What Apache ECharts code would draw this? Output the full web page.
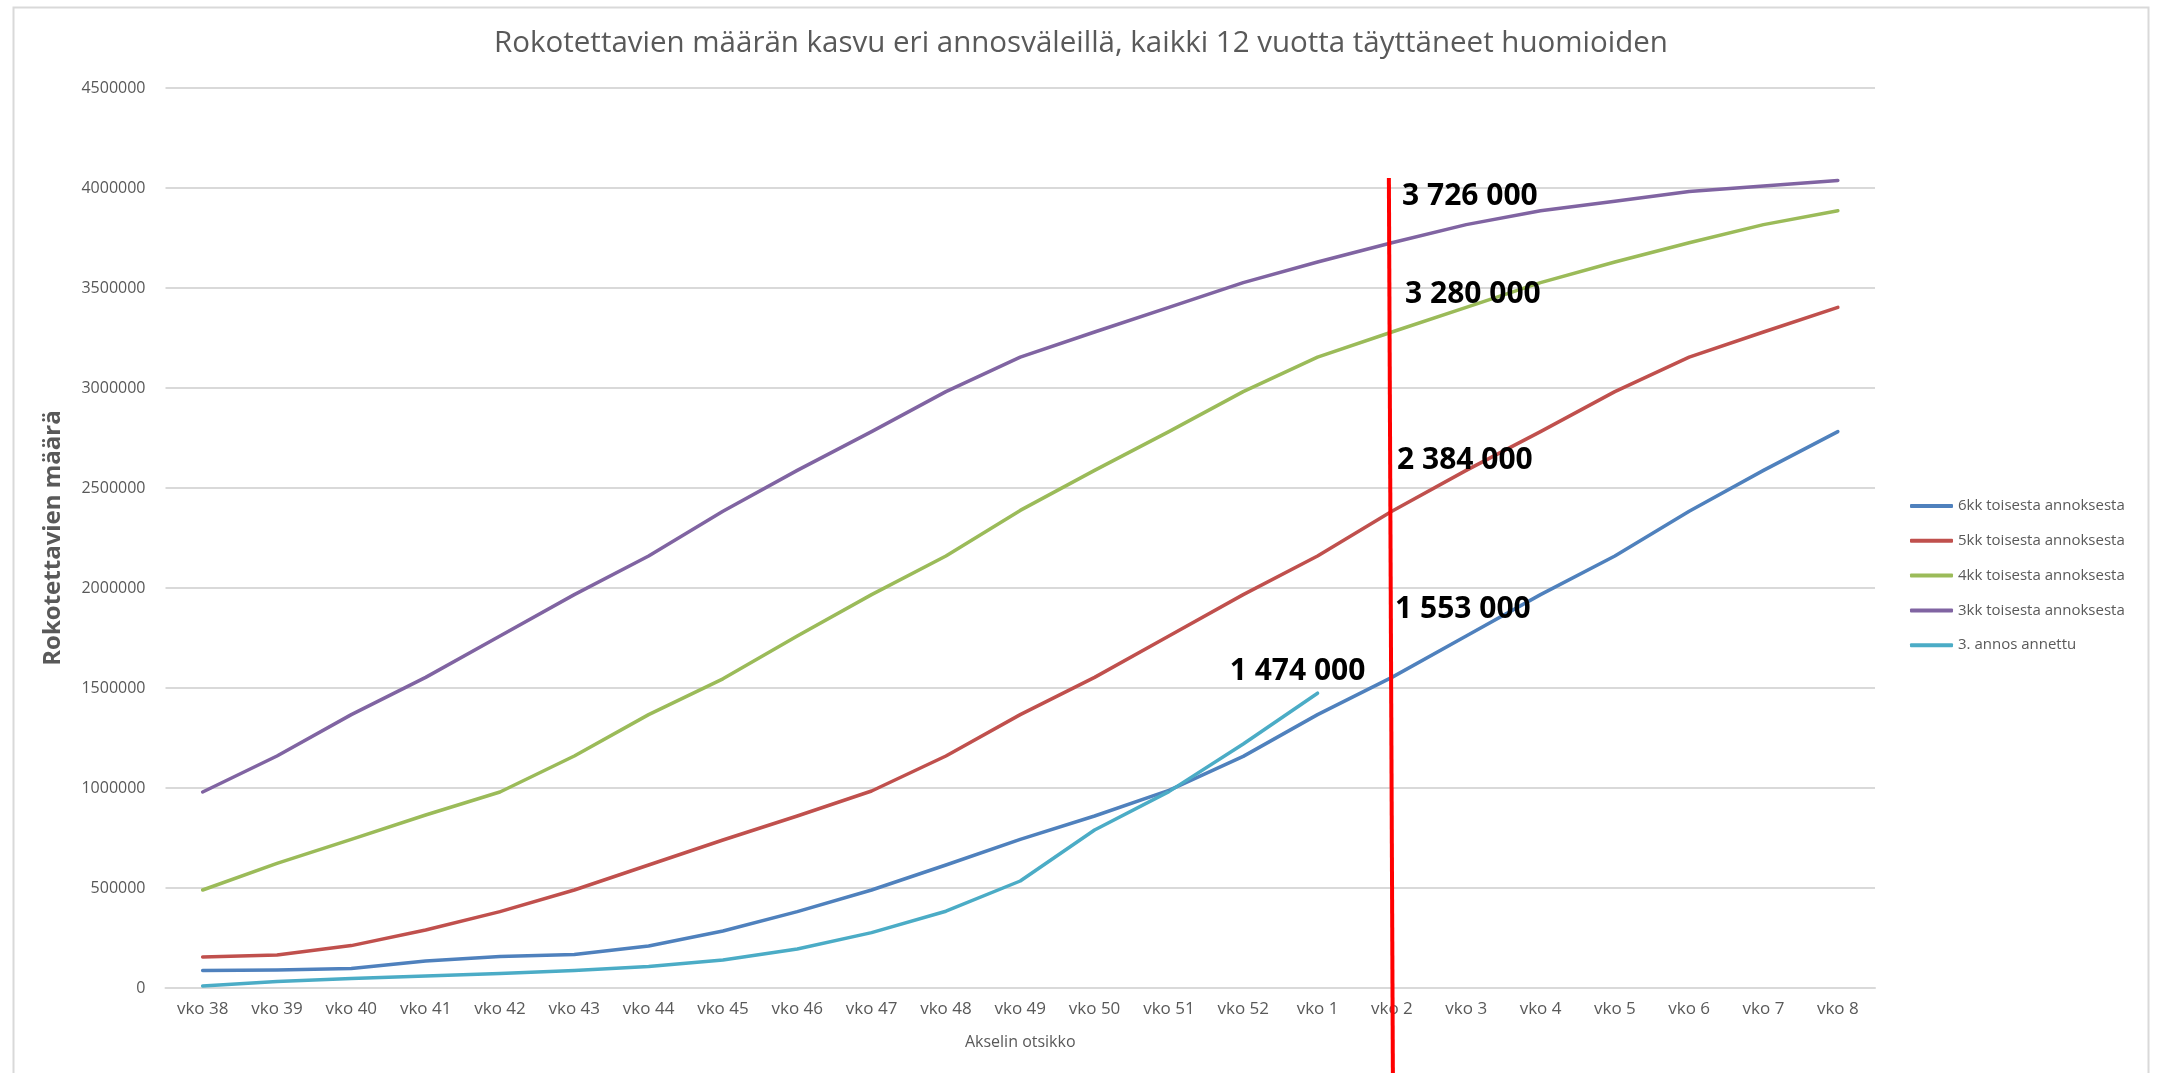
<!DOCTYPE html>
<html>
<head>
<meta charset="utf-8">
<script src="https://cdn.jsdelivr.net/npm/echarts@6/dist/echarts.min.js"></script>
<style>
html,body{margin:0;padding:0;background:#fff;}
#chart{width:2162px;height:1073px;}
</style>
</head>
<body>
<div id="chart"></div>
<script>
const categories = ['vko 38','vko 39','vko 40','vko 41','vko 42','vko 43','vko 44','vko 45','vko 46','vko 47','vko 48','vko 49','vko 50','vko 51','vko 52','vko 1','vko 2','vko 3','vko 4','vko 5','vko 6','vko 7','vko 8'];

const kk6 = [87000, 90000, 98000, 135000, 157000, 168000, 210000, 285000, 382000, 490000, 615000, 743000, 860000, 988000, 1158000, 1367000, 1553000, 1760000, 1967000, 2160000, 2384000, 2588000, 2782000];
const kk5 = [155000, 165000, 212000, 290000, 382000, 490000, 615000, 740000, 860000, 985000, 1160000, 1367000, 1553000, 1760000, 1967000, 2160000, 2384000, 2588000, 2782000, 2982000, 3154000, 3280000, 3403000];
const kk4 = [490000, 623000, 743000, 865000, 980000, 1160000, 1367000, 1546000, 1760000, 1967000, 2160000, 2388000, 2588000, 2782000, 2982000, 3154000, 3280000, 3403000, 3527000, 3630000, 3726000, 3817000, 3886000];
const kk3 = [980000, 1160000, 1367000, 1553000, 1760000, 1967000, 2160000, 2384000, 2588000, 2782000, 2982000, 3154000, 3280000, 3403000, 3527000, 3630000, 3726000, 3817000, 3886000, 3934000, 3982000, 4010000, 4038000];
const annos3 = [10000, 32000, 47000, 60000, 73000, 87000, 108000, 140000, 195000, 277000, 384000, 535000, 790000, 982000, 1220000, 1474000, null, null, null, null, null, null, null];

const seriesNames = ['6kk toisesta annoksesta','5kk toisesta annoksesta','4kk toisesta annoksesta','3kk toisesta annoksesta','3. annos annettu'];
const yTicks = {min: 0, max: 4500000, interval: 500000};
const markerCategory = 'vko 2';
const markerTop = 4050000;

const FONT = "'Open Sans', sans-serif";
const GRAY = '#595959';
const fmt = v => String(v).replace(/\B(?=(\d{3})+(?!\d))/g, ' ');

function withLabel(arr, idx, offset) {
  return arr.map((v, i) => i === idx ? {
    value: v,
    label: {
      show: true, position: 'inside', offset: offset,
      formatter: p => fmt(p.value),
      fontFamily: FONT, fontSize: 30, fontWeight: 'bold', color: '#000'
    }
  } : v);
}

const colors = ['#4F81BD', '#C0504D', '#9BBB59', '#8064A2', '#4BACC6'];
const idxV2 = categories.indexOf('vko 2');
const idxV1 = categories.indexOf('vko 1');

function lineSeries(name, data, color) {
  return {
    name: name, type: 'line', data: data,
    symbol: 'circle', symbolSize: 2, showSymbol: true,
    itemStyle: {color: color},
    lineStyle: {color: color, width: 3.5, cap: 'round', join: 'round'},
    emphasis: {disabled: true},
    clip: false
  };
}

const chart = echarts.init(document.getElementById('chart'), null, {renderer: 'canvas'});
chart.setOption({
  animation: false,
  backgroundColor: '#fff',
  title: {
    text: 'Rokotettavien määrän kasvu eri annosväleillä, kaikki 12 vuotta täyttäneet huomioiden',
    left: 'center', top: 24,
    textStyle: {fontFamily: FONT, fontSize: 29.5, fontWeight: 'normal', color: GRAY}
  },
  graphic: [{
    type: 'rect', left: 11, top: 5, silent: true,
    shape: {width: 2135, height: 1100},
    style: {fill: 'none', stroke: '#D9D9D9', lineWidth: 2}
  }],
  legend: {
    orient: 'vertical', left: 1905, top: 491,
    icon: 'roundRect', itemWidth: 43, itemHeight: 4, itemGap: 14.8,
    textStyle: {fontFamily: FONT, fontSize: 15, color: GRAY, lineHeight: 20},
    data: seriesNames
  },
  grid: {left: 165.5, right: 287, top: 88, bottom: 85, containLabel: false},
  xAxis: {
    type: 'category', data: categories, boundaryGap: true,
    name: 'Akselin otsikko', nameLocation: 'middle', nameGap: 46,
    nameTextStyle: {fontFamily: FONT, fontSize: 16, color: GRAY},
    axisLine: {show: true, lineStyle: {color: '#D9D9D9', width: 2}},
    axisTick: {show: false},
    axisLabel: {fontFamily: FONT, fontSize: 17, color: GRAY, margin: 13, interval: 0}
  },
  yAxis: {
    type: 'value', min: yTicks.min, max: yTicks.max, interval: yTicks.interval,
    name: 'Rokotettavien määrä', nameLocation: 'middle', nameGap: 100, nameRotate: 90,
    nameTextStyle: {fontFamily: FONT, fontSize: 24, fontWeight: 'bold', color: GRAY},
    axisLine: {show: false}, axisTick: {show: false},
    axisLabel: {fontFamily: FONT, fontSize: 16, color: GRAY, margin: 20, formatter: v => String(v)},
    splitLine: {lineStyle: {color: '#D9D9D9', width: 2}}
  },
  series: [
    lineSeries(seriesNames[0], withLabel(kk6, idxV2, [71, -68]), colors[0]),
    lineSeries(seriesNames[1], withLabel(kk5, idxV2, [73, -51]), colors[1]),
    lineSeries(seriesNames[2], withLabel(kk4, idxV2, [81, -38]), colors[2]),
    lineSeries(seriesNames[3], withLabel(kk3, idxV2, [78, -46]), colors[3]),
    lineSeries(seriesNames[4], withLabel(annos3, idxV1, [-20, -22]), colors[4]),
    {
      name: 'marker', type: 'custom', silent: true, clip: false, z: 5,
      data: [[markerCategory, markerTop]],
      renderItem: function (params, api) {
        const top = api.coord([api.value(0), api.value(1)]);
        return {
          type: 'line',
          shape: {x1: top[0] - 3, y1: top[1], x2: top[0] + 1, y2: api.getHeight()},
          style: {stroke: '#FF0000', lineWidth: 4}
        };
      }
    }
  ]
});
</script>
</body>
</html>
